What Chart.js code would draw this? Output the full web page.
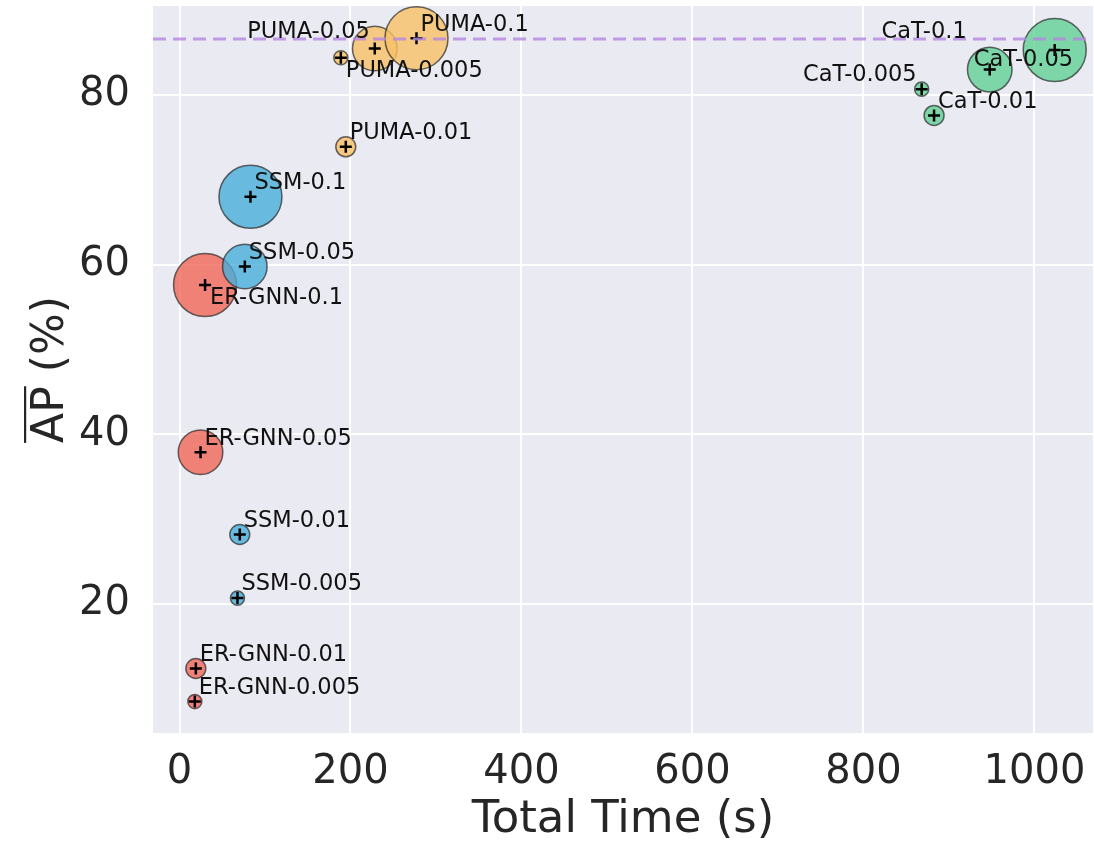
<!DOCTYPE html>
<html>
<head>
<meta charset="utf-8">
<script src="https://cdn.jsdelivr.net/npm/chart.js@4.4.0/dist/chart.umd.min.js"></script>
<style>
  body { margin: 0; background: #fff; }
  #wrap { width: 1094px; height: 843px; }
</style>
</head>
<body>
<div id="wrap"><canvas id="myChart" width="1094" height="843"></canvas></div>
<script>
// budgets (fraction of memory) shared by every method
const budgets = [0.005, 0.01, 0.05, 0.1];
const methods = ['ER-GNN', 'SSM', 'PUMA', 'CaT'];

// total time (s) and mean AP (%) per method, ordered as budgets
const erGnnTime = [17.9, 19.1, 24.6, 29.9];
const erGnnAP = [8.5, 12.4, 37.9, 57.6];
const ssmTime = [67.8, 70.5, 76.4, 83.0];
const ssmAP = [20.7, 28.2, 59.8, 68.0];
const pumaTime = [188.7, 194.5, 228.4, 277.2];
const pumaAP = [84.4, 73.9, 85.5, 86.7];
const catTime = [868.1, 882.6, 947.7, 1023.7];
const catAP = [80.7, 77.6, 83.0, 85.3];

// joint training reference line
const refAP = 86.6;

const xTicks = [0, 200, 400, 600, 800, 1000];
const yTicks = [20, 40, 60, 80];

const times = [erGnnTime, ssmTime, pumaTime, catTime];
const aps = [erGnnAP, ssmAP, pumaAP, catAP];
const colors = ['rgba(240,102,87,0.8)', 'rgba(72,174,217,0.8)', 'rgba(249,193,102,0.8)', 'rgba(98,209,147,0.8)'];

// marker area grows with the budget
function bubbleRadius(b) {
  return 31.5 * Math.sqrt(b / 0.1);
}

// where each annotation sits relative to its point: [dx, dy, align]
const defaultPlacement = [4, -13.5, 'left'];
const labelPlacement = {
  'PUMA-0.05': [-5, -16, 'right'],
  'PUMA-0.005': [5, 13, 'left'],
  'CaT-0.1': [-88, -18, 'right'],
  'CaT-0.05': [-16, -9, 'left'],
  'CaT-0.005': [-5, -14, 'right'],
  'ER-GNN-0.1': [5, 13, 'left']
};

const FONT = 'DejaVu Sans';

const datasets = methods.map((m, i) => ({
  label: m,
  order: 4 - i + 1,
  data: budgets.map((b, j) => ({ x: times[i][j], y: aps[i][j], r: bubbleRadius(b), name: m + '-' + b })),
  backgroundColor: colors[i],
  borderColor: 'rgba(40,40,40,0.7)',
  borderWidth: 1.5
}));

// "+" markers on every point
datasets.push({
  label: 'centers',
  order: 0,
  data: methods.flatMap((m, i) => budgets.map((b, j) => ({ x: times[i][j], y: aps[i][j], r: 6 }))),
  pointStyle: 'cross',
  backgroundColor: 'rgba(0,0,0,0)',
  borderColor: '#000',
  borderWidth: 2.5
});

const bgPlugin = {
  id: 'bg',
  beforeDraw(chart) {
    const { ctx, chartArea: a } = chart;
    ctx.save();
    ctx.fillStyle = '#EAEAF2';
    ctx.fillRect(a.left, a.top, a.right - a.left, a.bottom - a.top);
    ctx.restore();
  }
};

const overlayPlugin = {
  id: 'overlay',
  afterDatasetsDraw(chart) {
    const { ctx, chartArea: a, scales } = chart;
    ctx.save();
    // dashed reference line
    const y = scales.y.getPixelForValue(refAP);
    ctx.strokeStyle = 'rgba(180,135,225,0.8)';
    ctx.lineWidth = 3;
    ctx.setLineDash([13, 7]);
    ctx.beginPath();
    ctx.moveTo(a.left, y);
    ctx.lineTo(a.right, y);
    ctx.stroke();
    ctx.setLineDash([]);

    // annotations
    ctx.font = '22.5px "' + FONT + '"';
    ctx.fillStyle = '#111';
    ctx.textBaseline = 'middle';
    methods.forEach((m, i) => {
      const meta = chart.getDatasetMeta(i);
      meta.data.forEach((el, j) => {
        const name = chart.data.datasets[i].data[j].name;
        const p = labelPlacement[name] || defaultPlacement;
        ctx.textAlign = p[2];
        ctx.fillText(name, el.x + p[0], el.y + p[1]);
      });
    });
    ctx.restore();
  },
  afterDraw(chart) {
    // y axis title with overline on AP
    const { ctx, chartArea: a } = chart;
    const cy = (a.top + a.bottom) / 2;
    ctx.save();
    ctx.translate(63, cy);
    ctx.rotate(-Math.PI / 2);
    ctx.font = '44px "' + FONT + '"';
    ctx.fillStyle = '#262626';
    ctx.textBaseline = 'alphabetic';
    ctx.textAlign = 'left';
    const full = 'AP (%)';
    const w = ctx.measureText(full).width;
    const wAP = ctx.measureText('AP').width;
    ctx.fillText(full, -w / 2, 0);
    ctx.fillRect(-w / 2, -39, wAP, 2.2);
    ctx.restore();
  }
};

function noPadding(s) {
  s.paddingTop = 0;
  s.paddingBottom = 0;
  s.paddingLeft = 0;
  s.paddingRight = 0;
}

const ctx = document.getElementById('myChart').getContext('2d');
new Chart(ctx, {
  type: 'bubble',
  data: { datasets: datasets },
  options: {
    responsive: false,
    animation: false,
    events: [],
    devicePixelRatio: 1,
    layout: { autoPadding: false, padding: { top: 6, right: 1, left: 0, bottom: 0 } },
    plugins: { legend: { display: false }, tooltip: { enabled: false } },
    scales: {
      x: {
        type: 'linear',
        min: -31,
        max: 1068.5,
        afterBuildTicks: s => { s.ticks = xTicks.map(v => ({ value: v })); },
        afterFit: s => { s.height = 110; noPadding(s); },
        grid: { color: '#fff', lineWidth: 2, drawTicks: false },
        border: { display: false },
        ticks: { font: { family: FONT, size: 40 }, color: '#262626', padding: 16, callback: v => String(v) },
        title: { display: true, text: 'Total Time (s)', font: { family: FONT, size: 45 }, color: '#262626', padding: { top: 0, bottom: -4 } }
      },
      y: {
        type: 'linear',
        min: 4.8,
        max: 90.5,
        afterBuildTicks: s => { s.ticks = yTicks.map(v => ({ value: v })); },
        afterFit: s => { s.width = 153; noPadding(s); },
        grid: { color: '#fff', lineWidth: 2, drawTicks: false },
        border: { display: false },
        ticks: { font: { family: FONT, size: 40 }, color: '#262626', padding: 23, callback: v => String(v) }
      }
    }
  },
  plugins: [bgPlugin, overlayPlugin]
});
</script>
</body>
</html>
